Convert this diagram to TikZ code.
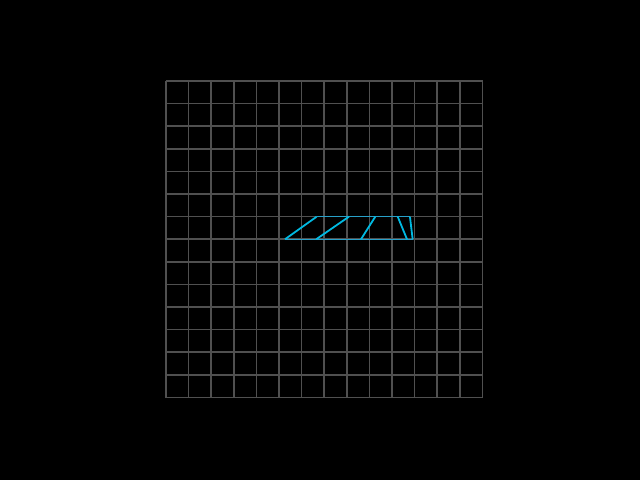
\documentclass[tikz,border=0pt]{standalone}
\begin{document}
\begin{tikzpicture}[x=0.5pt,y=-0.5pt,
  gridline/.style={draw={rgb,255:red,80;green,80;blue,80},line width=0.8pt},
  edgeline/.style={draw={rgb,255:red,40;green,160;blue,200},line width=0.5pt},
  ray/.style={draw={rgb,255:red,0;green,185;blue,225},line width=0.9pt}]
\fill[black] (0,0) rectangle (640,480);
\useasboundingbox (0,0) rectangle (640,480);
\begin{scope}[shift={(324.25,239.25)},x=11.3035pt,y=11.3035pt]
  \foreach \k in {-7,...,7} {
    \draw[gridline] (\k,-7) -- (\k,7);
    \draw[gridline] (-7,\k) -- (7,\k);
  }
  \coordinate (b0) at (-1.736,0);
  \coordinate (b5) at (3.91,0);
  \coordinate (t0) at (-0.334,1);
  \coordinate (t5) at (3.79,1);
  \draw[edgeline] (b0) -- (b5);
  \draw[edgeline] (t0) -- (t5);
  \coordinate (p1) at (-1.736,0); \coordinate (q1) at (-0.334,1);
  \coordinate (p2) at (-0.356,0); \coordinate (q2) at (1.095,1);
  \coordinate (p3) at (1.625,0);  \coordinate (q3) at (2.258,1);
  \coordinate (p4) at (3.66,0);   \coordinate (q4) at (3.249,1);
  \coordinate (p5) at (3.91,0);   \coordinate (q5) at (3.79,1);
  \foreach \i in {1,...,5} { \draw[ray] (p\i) -- (q\i); }
\end{scope}
\end{tikzpicture}
\end{document}
